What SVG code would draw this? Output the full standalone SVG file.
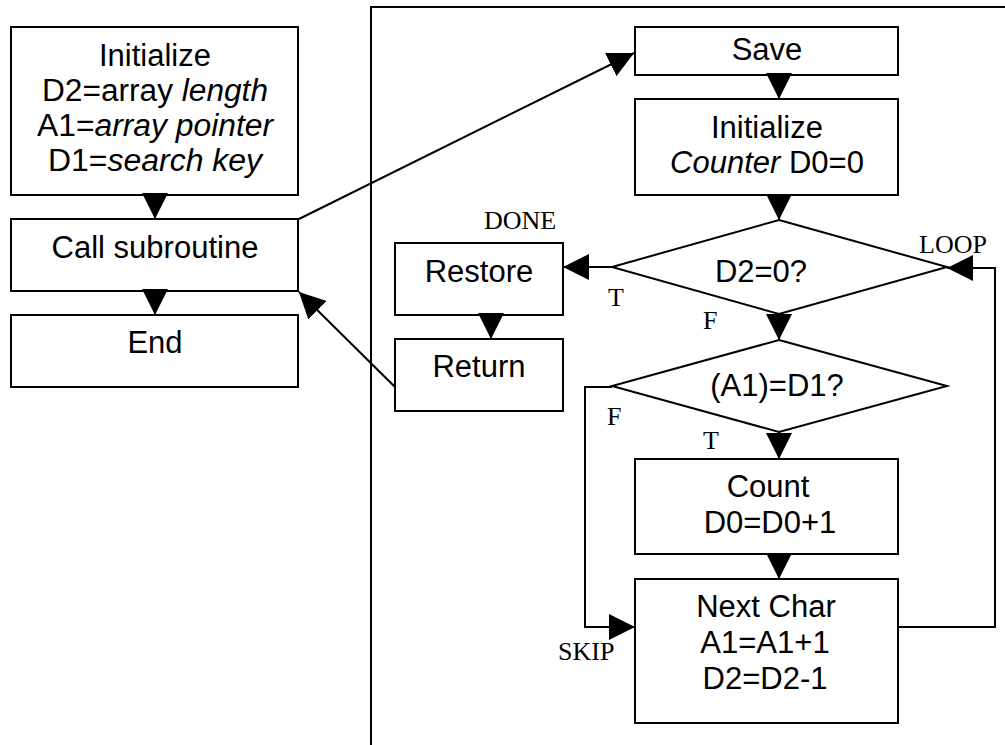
<svg xmlns="http://www.w3.org/2000/svg" width="1005" height="745" viewBox="0 0 1005 745">
  <style>
    .box { fill: #fff; stroke: #000; stroke-width: 2; }
    .wire { fill: none; stroke: #000; stroke-width: 2; }
    .txt { font-family: "Liberation Sans", Arial, sans-serif; font-size: 31px; text-anchor: middle; fill: #000; }
    .lbl { font-family: "Liberation Serif", "Times New Roman", serif; font-size: 26px; fill: #000; }
    .it { font-style: italic; }
  </style>
  <defs>
    <marker id="ah" markerWidth="26" markerHeight="26" viewBox="0 0 26 26" refX="26" refY="13" orient="auto" markerUnits="userSpaceOnUse">
      <path d="M0,0 L26,13 L0,26 z" fill="#000"/>
    </marker>
  </defs>
  <rect width="1005" height="745" fill="#fff"/>

  <!-- subroutine panel frame -->
  <path class="wire" d="M371,745 V7 H1005"/>

  <!-- main program -->
  <g id="main-init">
    <rect class="box" x="11" y="27" width="287" height="168"/>
    <text class="txt" font-size="30" x="155" y="66">Initialize</text>
    <text class="txt" font-size="30" x="155" y="101" textLength="226" lengthAdjust="spacingAndGlyphs">D2=array <tspan class="it">length</tspan></text>
    <text class="txt" font-size="30" x="155" y="136" textLength="236" lengthAdjust="spacingAndGlyphs">A1=<tspan class="it">array pointer</tspan></text>
    <text class="txt" font-size="30" x="155" y="171" textLength="214" lengthAdjust="spacingAndGlyphs">D1=<tspan class="it">search key</tspan></text>
  </g>
  <g id="main-call">
    <rect class="box" x="11" y="219" width="287" height="72"/>
    <text class="txt" x="155" y="258" font-size="32">Call subroutine</text>
  </g>
  <g id="main-end">
    <rect class="box" x="11" y="315" width="287" height="72"/>
    <text class="txt" x="155" y="353">End</text>
  </g>

  <!-- subroutine -->
  <g id="sub-save">
    <rect class="box" x="635" y="27" width="263" height="48"/>
    <text class="txt" x="767" y="60">Save</text>
  </g>
  <g id="sub-init">
    <rect class="box" x="635" y="99" width="263" height="96"/>
    <text class="txt" x="767" y="138" font-size="30">Initialize</text>
    <text class="txt" x="767" y="173"><tspan class="it">Counter</tspan> D0=0</text>
  </g>
  <g id="sub-test-len">
    <polygon class="box" points="779,220 947,267 779,314 612,267"/>
    <text class="txt" x="761" y="282">D2=0?</text>
  </g>
  <g id="sub-restore">
    <rect class="box" x="395" y="243" width="168" height="72"/>
    <text class="txt" x="479" y="282">Restore</text>
  </g>
  <g id="sub-return">
    <rect class="box" x="395" y="339" width="168" height="72"/>
    <text class="txt" x="479" y="377">Return</text>
  </g>
  <g id="sub-test-key">
    <polygon class="box" points="779,340 947,386 779,432 612,386"/>
    <text class="txt" x="777" y="396" font-size="28">(A1)=D1?</text>
  </g>
  <g id="sub-count">
    <rect class="box" x="635" y="459" width="263" height="95"/>
    <text class="txt" x="768" y="497">Count</text>
    <text class="txt" x="770" y="533">D0=D0+1</text>
  </g>
  <g id="sub-next">
    <rect class="box" x="635" y="579" width="263" height="144"/>
    <text class="txt" x="766" y="617">Next Char</text>
    <text class="txt" x="765" y="653">A1=A1+1</text>
    <text class="txt" x="765" y="689">D2=D2-1</text>
  </g>

  <!-- connectors -->
  <g id="connectors" class="wire" marker-end="url(#ah)">
    <path d="M155,195 V219"/>
    <path d="M155,291 V315"/>
    <path d="M299,219 L634,53"/>
    <path d="M395,387 L299,292"/>
    <path d="M779,75 V99"/>
    <path d="M779,195 V220"/>
    <path d="M612,267 H563"/>
    <path d="M491,315 V339"/>
    <path d="M779,314 V340"/>
    <path d="M779,432 V459"/>
    <path d="M779,554 V579"/>
    <path d="M612,387 H585 V627 H635"/>
    <path d="M898,627 H995 V268 H947"/>
  </g>

  <!-- branch labels -->
  <g id="labels">
    <text class="lbl" x="484" y="229">DONE</text>
    <text class="lbl" x="919" y="253">LOOP</text>
    <text class="lbl" x="608" y="306">T</text>
    <text class="lbl" x="703" y="329">F</text>
    <text class="lbl" x="607" y="425">F</text>
    <text class="lbl" x="703" y="449">T</text>
    <text class="lbl" x="558" y="660">SKIP</text>
  </g>
</svg>
